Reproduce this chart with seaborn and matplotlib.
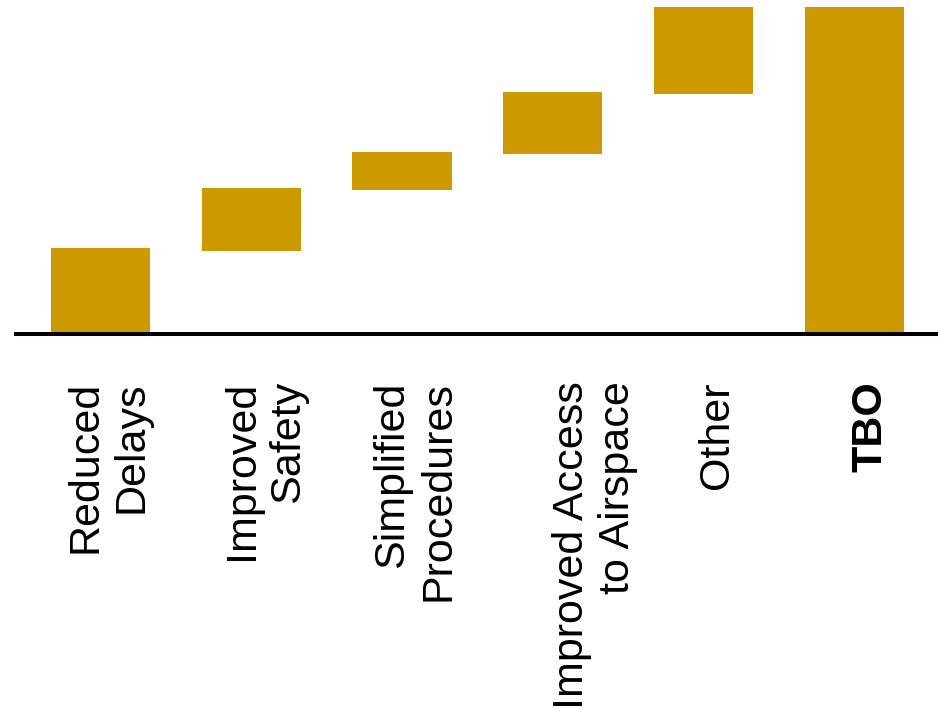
import matplotlib
matplotlib.use("Agg")
import matplotlib.pyplot as plt
import matplotlib.transforms as mtransforms
import seaborn as sns
import pandas as pd

# --- DATA (TBO = 100) ---
categories = ["Reduced\nDelays", "Improved\nSafety", "Simplified\nProcedures",
              "Improved Access\nto Airspace", "Other", "TBO"]
bar_bottoms = [0.0, 25.5, 43.9, 55.0, 73.3, 0.0]
bar_tops = [26.2, 44.6, 55.7, 74.1, 100.0, 100.0]

# --- STYLE ---
gold = "#CC9900"
sns.set_theme(style="white")
plt.rcParams["font.family"] = ["Liberation Sans", "DejaVu Sans"]

df = pd.DataFrame({"category": categories, "top": bar_tops, "bottom": bar_bottoms})

fig = plt.figure(figsize=(9.38, 7.08), dpi=100)
ax = fig.add_axes([16 / 938, (708 - 334) / 708, (938 - 16) / 938, 334 / 708])

# waterfall: full bars up to the top, then white masks up to the bottom
sns.barplot(data=df, x="category", y="top", color=gold, saturation=1,
            width=0.658, linewidth=0, ax=ax)
sns.barplot(data=df, x="category", y="bottom", color="white", saturation=1,
            width=0.658, linewidth=0, ax=ax)

ax.set_xlim(-0.559, 5.554)
ax.set_ylim(0, 102.14)
ax.set_xlabel("")
ax.set_ylabel("")
ax.set_yticks([])

for side in ["left", "right", "top"]:
    ax.spines[side].set_visible(False)
ax.spines["bottom"].set_color("black")
ax.spines["bottom"].set_linewidth(2.9)
ax.spines["bottom"].set_zorder(5)

ax.tick_params(axis="x", length=0, pad=34)
ax.set_xticks(range(len(categories)))
ax.set_xticklabels(categories, rotation=90, fontsize=31, color="black",
                   multialignment="right")

# small per-label shifts to the right, as in the reference
shifts_px = [8, 14, 13, 42, 13, 16]
for lab, dx in zip(ax.get_xticklabels(), shifts_px):
    lab.set_transform(lab.get_transform() +
                      mtransforms.ScaledTranslation(dx / 100, 0, fig.dpi_scale_trans))
ax.get_xticklabels()[-1].set_fontweight("bold")

fig.savefig("out.png", dpi=100)
